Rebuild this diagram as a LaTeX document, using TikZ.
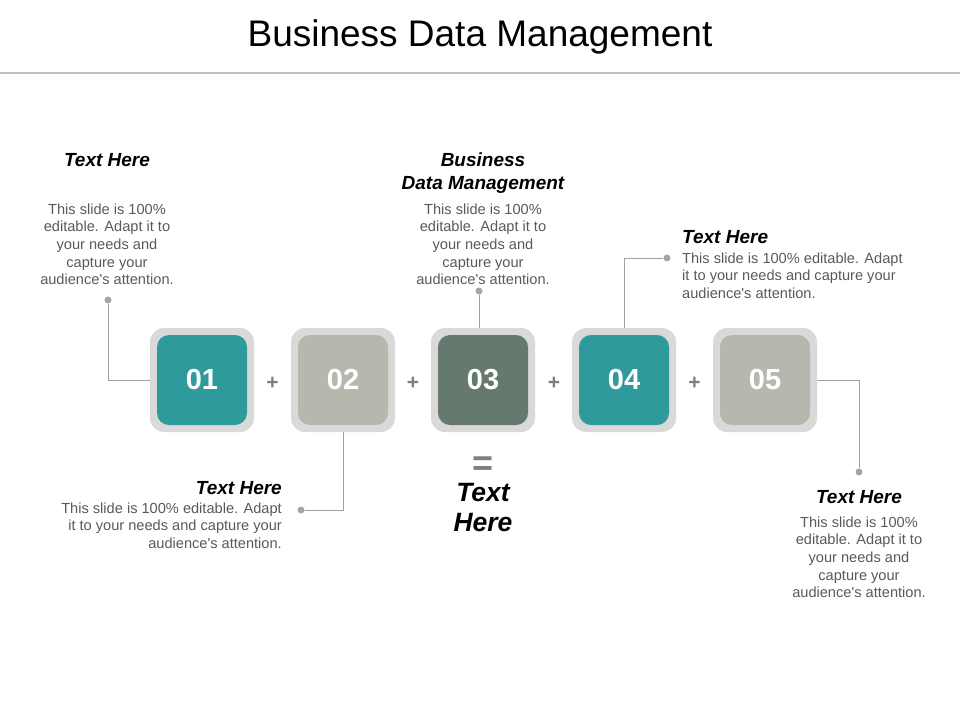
\documentclass[tikz,border=0pt]{standalone}
\usepackage{fontspec}
\setmainfont{Liberation Sans}
\definecolor{outerc}{HTML}{D9D9D9}
\definecolor{tealc}{HTML}{2F9A9C}
\definecolor{grayc}{HTML}{B8B7AE}
\definecolor{darkc}{HTML}{66796F}
\definecolor{linec}{HTML}{A0A0A0}
\definecolor{dotc}{HTML}{A6A6A6}
\definecolor{bodyc}{HTML}{595959}
\definecolor{plusc}{HTML}{7F7F7F}
\definecolor{rulec}{HTML}{C0C0C0}
\begin{document}
\begin{tikzpicture}[x=1pt,y=-1pt,
  outerbox/.style={fill=outerc, rounded corners=14pt, minimum width=104pt, minimum height=104pt, inner sep=0pt},
  innerbox/.style={fill=#1, rounded corners=12pt, minimum width=90pt, minimum height=90pt, inner sep=0pt, text=white, font=\fontsize{29}{29}\selectfont\bfseries},
  conn/.style={draw=linec, line width=1pt},
  dotnode/.style={circle, fill=dotc, minimum size=7pt, inner sep=0pt},
  body/.style={text=bodyc, font=\fontsize{14.6}{17.7}\selectfont, inner sep=0pt},
  head/.style={text=black, font=\fontsize{19}{22.5}\selectfont\bfseries\itshape, inner sep=0pt},
  plusnode/.style={text=plusc, font=\fontsize{21}{21}\selectfont\bfseries, inner sep=0pt}
]
\useasboundingbox (0,0) rectangle (960,720);
% title
\node[anchor=base, inner sep=0pt, font=\fontsize{37}{37}\selectfont] (title) at (480,46) {Business Data Management};
\draw[rulec, line width=2.5pt] (0,73) -- (960,73);

% boxes
\foreach \i/\x/\c in {1/202/tealc, 2/343/grayc, 3/483/darkc, 4/624/tealc, 5/765/grayc}{
  \node[outerbox] (b\i) at (\x,380) {};
  \node[innerbox=\c] (n\i) at (\x,380) {0\i};
}
% plus signs
\node[plusnode] (p1) at (272.5,383) {+};
\node[plusnode] (p2) at (413,383) {+};
\node[plusnode] (p3) at (554,383) {+};
\node[plusnode] (p4) at (694.5,383) {+};

% dots
\node[dotnode] (d1) at (108,300) {};
\node[dotnode] (d2) at (301,510) {};
\node[dotnode] (d3) at (479,291) {};
\node[dotnode] (d4) at (667,258) {};
\node[dotnode] (d5) at (859,472) {};

% connectors
\draw[conn] (b1.west) -| (d1);
\draw[conn] (b2.south) |- (d2);
\draw[conn] (b3.north -| d3) -- (d3);
\draw[conn] (b4.north) |- (d4);
\draw[conn] (b5.east) -| (d5);

% block 1
\node[head, anchor=base] (h1) at (107,166) {Text Here};
\node[body, anchor=north, align=center] (t1) at (107,203.4) {This slide is 100\%\\editable. Adapt it to\\your needs and\\capture your\\audience\textquotesingle s attention.};
% block 2
\node[head, anchor=base east] (h2) at (282,494) {Text Here};
\node[body, anchor=north east, align=right] (t2) at (282,502.4) {This slide is 100\% editable. Adapt\\it to your needs and capture your\\audience\textquotesingle s attention.};
% block 3
\node[head, anchor=north, align=center] (h3) at (483,153) {Business\\Data Management};
\node[body, anchor=north, align=center] (t3) at (483,203.4) {This slide is 100\%\\editable. Adapt it to\\your needs and\\capture your\\audience\textquotesingle s attention.};
% block 4
\node[head, anchor=base west] (h4) at (682,243) {Text Here};
\node[body, anchor=north west, align=left] (t4) at (682,252.4) {This slide is 100\% editable. Adapt\\it to your needs and capture your\\audience\textquotesingle s attention.};
% block 5
\node[head, anchor=base] (h5) at (859,503) {Text Here};
\node[body, anchor=north, align=center] (t5) at (859,516.4) {This slide is 100\%\\editable. Adapt it to\\your needs and\\capture your\\audience\textquotesingle s attention.};

% result
\node[anchor=base, inner sep=0pt, text=plusc, font=\fontsize{36}{36}\selectfont\bfseries] (eq) at (483.5,475) {=};
\node[anchor=north, align=center, inner sep=0pt, font=\fontsize{26.5}{30}\selectfont\bfseries\itshape] (res) at (483,483) {Text\\Here};
\end{tikzpicture}
\end{document}
